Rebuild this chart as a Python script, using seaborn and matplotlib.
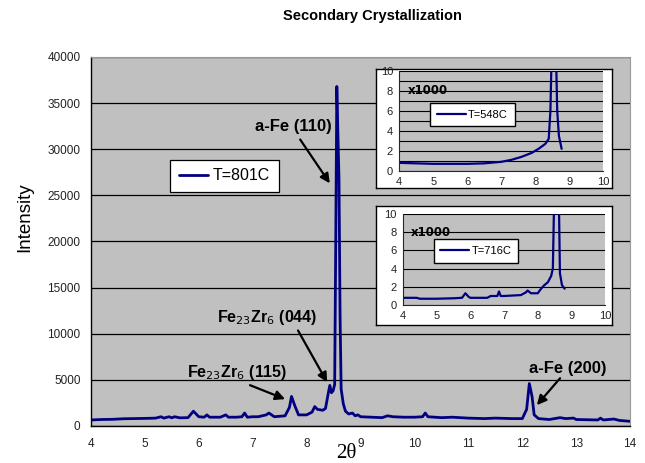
import numpy as np
import pandas as pd
import matplotlib
matplotlib.use("Agg")
import matplotlib.pyplot as plt
import seaborn as sns

# main scan, T=801C  (2theta, intensity)
two_theta_801 = [4.0, 4.2, 4.4, 4.6, 4.8, 5.0, 5.2, 5.3, 5.35, 5.45, 5.5, 5.55, 5.65,
                 5.8, 5.9, 6.0, 6.1, 6.15, 6.2, 6.4, 6.5, 6.55, 6.7, 6.8, 6.85, 6.9,
                 7.0, 7.1, 7.25, 7.3, 7.4, 7.6, 7.68, 7.72, 7.78, 7.85, 8.0, 8.1,
                 8.15, 8.2, 8.3, 8.35, 8.4, 8.43, 8.46, 8.49, 8.52, 8.54, 8.56, 8.58,
                 8.60, 8.62, 8.64, 8.68, 8.72, 8.78, 8.85, 8.9, 8.95, 9.0, 9.2, 9.4,
                 9.5, 9.6, 9.8, 10.0, 10.15, 10.2, 10.25, 10.5, 10.7, 11.0, 11.3,
                 11.5, 11.8, 12.0, 12.08, 12.13, 12.18, 12.22, 12.3, 12.5, 12.7,
                 12.8, 12.95, 13.0, 13.4, 13.45, 13.5, 13.7, 13.8, 14.0]
intensity_801 = [650, 700, 720, 780, 800, 820, 850, 1000, 850, 1000, 880, 1000, 880,
                 900, 1600, 1000, 950, 1200, 950, 950, 1200, 950, 950, 1000, 1400, 950,
                 1000, 1000, 1200, 1400, 1000, 1100, 2000, 3200, 2200, 1200, 1200, 1500,
                 2100, 1800, 1700, 1900, 3500, 4400, 3600, 3800, 4500, 20000, 36800, 31600,
                 26800, 12000, 4000, 2400, 1600, 1300, 1400, 1100, 1200, 1000, 950, 900,
                 1100, 1000, 950, 950, 1000, 1400, 1000, 900, 950, 850, 800,
                 850, 800, 800, 1800, 4600, 3200, 1200, 800, 700, 900,
                 800, 850, 700, 650, 850, 650, 750, 600, 500]

# inset scans, intensity in thousands
two_theta_548 = [4.0, 4.5, 5.0, 5.5, 6.0, 6.5, 7.0, 7.3, 7.6, 7.9, 8.1, 8.3, 8.4, 8.45,
                 8.5, 8.6, 8.65, 8.7, 8.78]
intensity_548 = [0.8, 0.75, 0.7, 0.7, 0.7, 0.75, 0.9, 1.1, 1.4, 1.8, 2.2, 2.7, 3.2, 6.0,
                 14.0, 14.0, 6.0, 3.5, 2.2]

two_theta_716 = [4.0, 4.4, 4.5, 5.0, 5.5, 5.75, 5.85, 5.95, 6.0, 6.5, 6.6, 6.8, 6.85,
                 6.9, 7.0, 7.5, 7.65, 7.7, 7.8, 8.0, 8.1, 8.2, 8.3, 8.4, 8.45, 8.5,
                 8.62, 8.66, 8.72, 8.8]
intensity_716 = [0.8, 0.8, 0.7, 0.7, 0.75, 0.8, 1.3, 0.9, 0.8, 0.8, 1.0, 1.0, 1.5,
                 1.0, 1.0, 1.1, 1.4, 1.6, 1.3, 1.3, 1.8, 2.2, 2.5, 3.2, 4.0, 14.0,
                 14.0, 3.5, 2.2, 1.8]

line_color = "#000080"
panel_gray = "#c0c0c0"

sns.set_style("white")
plt.rcParams["font.family"] = ["Liberation Sans", "DejaVu Sans"]
plt.rcParams["text.color"] = "black"

fig = plt.figure(figsize=(6.45, 4.63), dpi=100)

# main axes
ax = fig.add_axes([0.141, 0.080, 0.836, 0.797])
ax.set_facecolor(panel_gray)
df801 = pd.DataFrame({"two_theta": two_theta_801, "intensity": intensity_801})
sns.lineplot(data=df801, x="two_theta", y="intensity", ax=ax, color=line_color,
             lw=2, label="T=801C", sort=False, estimator=None)
ax.set_xlim(4, 14)
ax.set_ylim(0, 40000)
ax.set_xticks(np.arange(4, 15, 1))
ax.set_yticks(np.arange(0, 40001, 5000))
ax.yaxis.grid(True, color="black", lw=0.9)
ax.set_axisbelow(True)
ax.tick_params(axis="both", labelsize=8.5, direction="out", length=5, width=1,
               colors="black", labelcolor="#222222")
ax.tick_params(axis="y", direction="inout", length=8)
for s in ["top", "right"]:
    ax.spines[s].set_color("#999999")
    ax.spines[s].set_linewidth(0.8)
for s in ["left", "bottom"]:
    ax.spines[s].set_color("black")
    ax.spines[s].set_linewidth(1)
ax.set_xlabel("")
ax.set_ylabel("")
leg = ax.legend(loc="upper left", bbox_to_anchor=(0.147, 0.722), frameon=True,
                fancybox=False, edgecolor="black", fontsize=11.5, handlelength=1.8,
                borderaxespad=0, borderpad=0.55, handletextpad=0.3, framealpha=1)
leg.get_frame().set_linewidth(0.9)

arrow = dict(arrowstyle="-|>", color="black", lw=1.6, mutation_scale=14, shrinkA=0, shrinkB=0)
ax.annotate("", xy=(8.43, 26300), xytext=(7.88, 31050), arrowprops=arrow)
ax.text(7.75, 32500, "a-Fe (110)", fontsize=12, fontweight="bold", ha="center", va="center")
ax.annotate("", xy=(8.38, 4740), xytext=(7.84, 10350), arrowprops=arrow)
ax.text(7.27, 11750, r"Fe$_{23}$Zr$_{6}$ (044)", fontsize=11.5, fontweight="bold",
        ha="center", va="center")
ax.annotate("", xy=(7.6, 2910), xytext=(6.95, 4420), arrowprops=arrow)
ax.text(6.71, 5820, r"Fe$_{23}$Zr$_{6}$ (115)", fontsize=11.5, fontweight="bold",
        ha="center", va="center")
ax.annotate("", xy=(12.27, 2260), xytext=(12.7, 5175), arrowprops=arrow)
ax.text(12.85, 6250, "a-Fe (200)", fontsize=12, fontweight="bold", ha="center", va="center")


def draw_inset(frame_rect, inner_rect, xs, ys, label, minor_grid):
    frame = fig.add_axes(frame_rect)
    frame.set_facecolor("white")
    frame.set_xticks([])
    frame.set_yticks([])
    for s in frame.spines.values():
        s.set_color("black")
        s.set_linewidth(1)
    iax = fig.add_axes(inner_rect)
    iax.set_facecolor(panel_gray)
    sns.lineplot(x=xs, y=ys, ax=iax, color=line_color, lw=1.6, label=label,
                 sort=False, estimator=None)
    iax.set_xlim(4, 10)
    iax.set_ylim(0, 10)
    iax.set_xticks(np.arange(4, 11, 1))
    iax.set_yticks(np.arange(0, 11, 2))
    iax.set_yticks(np.arange(0, 11, minor_grid), minor=True)
    iax.yaxis.grid(True, which="both" if minor_grid == 1 else "major", color="black", lw=0.8)
    iax.set_axisbelow(True)
    iax.tick_params(axis="both", labelsize=8, direction="out", length=3, width=0.8,
                    pad=1.5, labelcolor="#222222")
    iax.tick_params(axis="y", which="minor", length=0)
    for s in ["top", "right"]:
        iax.spines[s].set_visible(False)
    iax.text(0.04, 0.8, "x1000", transform=iax.transAxes, fontsize=8.5,
             fontweight="bold", ha="left", va="center", family="DejaVu Sans")
    iax.legend(loc="upper left", bbox_to_anchor=(0.152, 0.68 if minor_grid == 1 else 0.72),
               frameon=True, fancybox=False, edgecolor="black", fontsize=8,
               handlelength=2.6, borderaxespad=0, borderpad=0.6, handletextpad=0.2,
               framealpha=1)
    return iax


draw_inset([0.583, 0.594, 0.366, 0.257], [0.619, 0.631, 0.316, 0.216],
           two_theta_548, intensity_548, "T=548C", 1)
draw_inset([0.583, 0.298, 0.366, 0.257], [0.625, 0.341, 0.313, 0.197],
           two_theta_716, intensity_716, "T=716C", 2)

fig.text(372 / 645, 1 - 16 / 463, "Secondary Crystallization", fontsize=10.5,
         fontweight="bold", ha="center", va="center")
fig.text(25 / 645, 1 - 217 / 463, "Intensity", fontsize=13.5, rotation=90,
         ha="center", va="center")
fig.text(346 / 645, 1 - 454 / 463, "2θ", fontsize=15, family="Liberation Serif",
         ha="center", va="center")

fig.savefig("out.png", dpi=100)
